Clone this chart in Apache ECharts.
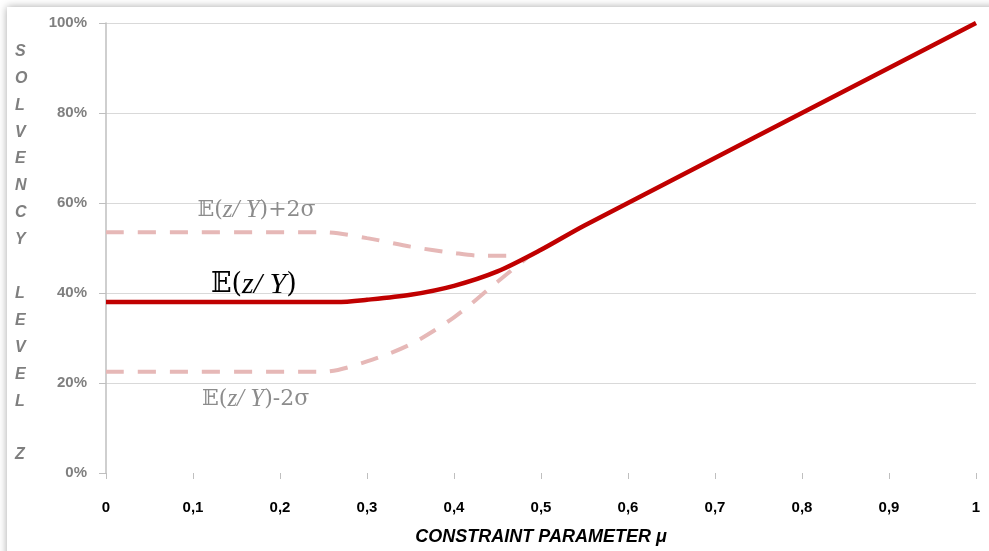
<!DOCTYPE html>
<html>
<head>
<meta charset="utf-8">
<script src="https://cdn.jsdelivr.net/npm/echarts@6/dist/echarts.min.js"></script>
<style>
  html, body { margin: 0; padding: 0; background: #fff; }
  #frame { position: absolute; left: 7px; top: 7px; width: 1000px; height: 600px; background: #fff; box-shadow: 0 0 8px rgba(0,0,0,0.35); }
  #main { position: absolute; left: 0; top: 0; width: 989px; height: 551px; }
</style>
</head>
<body>
<div id="frame"></div>
<div id="main"></div>
<script>
var myChart = echarts.init(document.getElementById('main'));

// x values (constraint parameter mu) and levels in %
var muMean = [0, 0.265, 0.3, 0.35, 0.4, 0.45, 0.5, 0.55, 1];
var valMean = [38, 38, 38.5, 39.6, 41.6, 44.8, 49.6, 55, 100];

var muUpper = [0, 0.25, 0.3, 0.35, 0.4, 0.43, 0.475];
var valUpper = [53.5, 53.5, 52.2, 50.3, 48.9, 48.3, 48.3];

var muLower = [0, 0.25, 0.3, 0.35, 0.4, 0.45, 0.485];
var valLower = [22.5, 22.5, 24.8, 28.6, 34.6, 42.5, 48];

var xTicks = ['0', '0,1', '0,2', '0,3', '0,4', '0,5', '0,6', '0,7', '0,8', '0,9', '1'];

// annotation anchors [mu, level]
var labelUpperAt = [0.173, 58.4];
var labelMeanAt = [0.170, 41.8];
var labelLowerAt = [0.172, 16.4];

var pairs = function (xs, ys) {
    var res = [];
    for (var i = 0; i < xs.length; i++) {
        res.push([xs[i], ys[i]]);
    }
    return res;
};

var eLabel = function (coord, suffix, color, size) {
    return {
        symbol: 'circle',
        symbolSize: 0,
        silent: true,
        data: [{ coord: coord }],
        label: {
            show: true,
            position: 'inside',
            formatter: '{n|\uD835\uDD3C(}{i|z/ Y}{n|)' + suffix + '}',
            rich: {
                n: { fontFamily: 'DejaVu Serif, Liberation Serif, serif', fontSize: size, color: color },
                i: { fontFamily: 'Liberation Serif, DejaVu Serif, serif', fontStyle: 'italic', fontSize: size + 3, color: color }
            }
        }
    };
};

var option = {
    animation: false,
    backgroundColor: 'transparent',
    grid: { left: 106, right: 13, top: 23, bottom: 74 },
    graphic: [{
        type: 'text',
        left: 15,
        top: 38,
        style: {
            text: 'S\nO\nL\nV\nE\nN\nC\nY\n\nL\nE\nV\nE\nL\n\nZ',
            font: 'italic bold 16px "Liberation Sans", Arial, sans-serif',
            fill: '#7f7f7f',
            lineHeight: 26.9,
            align: 'left'
        }
    }],
    xAxis: {
        type: 'value',
        min: 0,
        max: 1,
        interval: 0.1,
        name: 'CONSTRAINT PARAMETER \u03bc',
        nameLocation: 'middle',
        nameGap: 55,
        nameTextStyle: {
            fontFamily: '"Liberation Sans Narrow", "Liberation Sans", Arial, sans-serif',
            fontStyle: 'italic',
            fontWeight: 'bold',
            fontSize: 18,
            color: '#000'
        },
        axisLine: { show: false },
        axisTick: { show: true, length: 6, lineStyle: { color: '#bfbfbf' } },
        splitLine: { show: false },
        axisLabel: {
            margin: 27,
            fontFamily: '"Liberation Sans", Arial, sans-serif',
            fontWeight: 'bold',
            fontSize: 15,
            color: '#000',
            formatter: function (v) {
                return xTicks[Math.round(v * 10)];
            }
        }
    },
    yAxis: {
        type: 'value',
        min: 0,
        max: 100,
        interval: 20,
        axisLine: { show: true, lineStyle: { color: '#bfbfbf', width: 1.5 } },
        axisTick: { show: true, length: 7, lineStyle: { color: '#bfbfbf' } },
        splitLine: {
            show: true,
            lineStyle: { color: ['rgba(0,0,0,0)', '#d9d9d9', '#d9d9d9', '#d9d9d9', '#d9d9d9', '#d9d9d9'] }
        },
        axisLabel: {
            margin: 19,
            fontFamily: '"Liberation Sans", Arial, sans-serif',
            fontWeight: 'bold',
            fontSize: 15,
            color: '#7f7f7f',
            formatter: '{value}%'
        }
    },
    series: [
        {
            name: 'upper',
            type: 'line',
            data: pairs(muUpper, valUpper),
            smooth: 0.3,
            symbol: 'none',
            lineStyle: { color: '#e6b8b7', width: 4, type: [18, 14] },
            markPoint: eLabel(labelUpperAt, '+2\u03c3', '#8c8c8c', 22)
        },
        {
            name: 'lower',
            type: 'line',
            data: pairs(muLower, valLower),
            smooth: 0.3,
            symbol: 'none',
            lineStyle: { color: '#e6b8b7', width: 4, type: [18, 14] },
            markPoint: eLabel(labelLowerAt, '-2\u03c3', '#8c8c8c', 22)
        },
        {
            name: 'mean',
            type: 'line',
            data: pairs(muMean, valMean),
            smooth: 0.3,
            symbol: 'none',
            z: 3,
            lineStyle: { color: '#c00000', width: 4.5 },
            markPoint: eLabel(labelMeanAt, '', '#000', 27)
        }
    ]
};

myChart.setOption(option);
</script>
</body>
</html>
